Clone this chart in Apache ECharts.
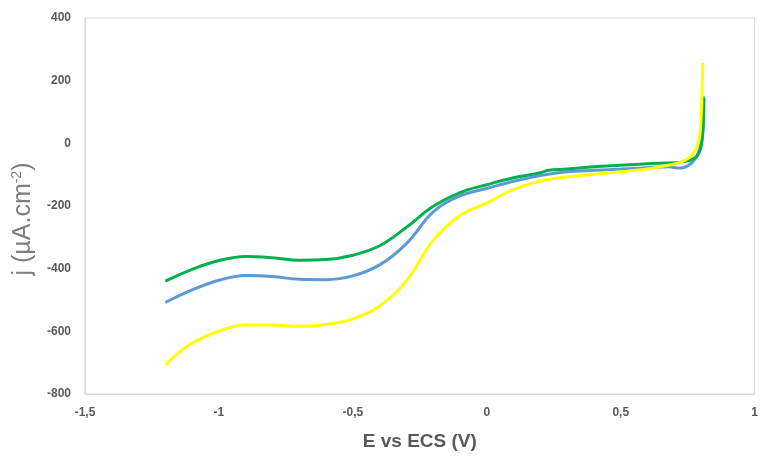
<!DOCTYPE html>
<html>
<head>
<meta charset="utf-8">
<script src="https://cdn.jsdelivr.net/npm/echarts@6/dist/echarts.min.js"></script>
<style>html,body{margin:0;padding:0;background:#fff}#c{width:761px;height:456px}</style>
</head>
<body>
<div id="c"></div>
<script>
// E vs ECS (V), j (µA.cm-2)
const blueData = [
  [-1.2,-508],[-1.1,-468],[-1.0,-437],[-0.9,-422],[-0.8,-425],
  [-0.7,-434],[-0.6,-435],[-0.5,-423],[-0.4,-388],
  [-0.3,-320],[-0.2,-219],[-0.1,-168],[0,-144],[0.1,-121],[0.2,-103],
  [0.3,-91],[0.4,-86],[0.5,-82],[0.6,-78],[0.68,-75],[0.72,-79],[0.76,-66],[0.79,-30],[0.805,30],[0.81,150]
];
const greenData = [
  [-1.2,-440],[-1.1,-402],[-1.0,-374],[-0.9,-361],[-0.8,-365],
  [-0.7,-373],[-0.6,-371],[-0.5,-357],[-0.4,-327],
  [-0.3,-268],[-0.2,-201],[-0.1,-157],[0,-132],[0.1,-110],[0.2,-94],
  [0.23,-86],[0.3,-82],[0.4,-75],[0.5,-70],[0.6,-65],[0.7,-62],[0.75,-56],[0.784,-41],[0.8,-10],[0.807,40],[0.81,145]
];
const yellowData = [
  [-1.2,-708],[-1.15,-668],[-1.1,-638],[-1.0,-599],[-0.9,-580],[-0.8,-580],
  [-0.7,-584],[-0.6,-578],[-0.5,-560],[-0.4,-519],
  [-0.3,-439],[-0.2,-309],[-0.1,-230],[0,-190],[0.1,-147],[0.2,-121],
  [0.3,-107],[0.4,-99],[0.5,-91],[0.6,-82],[0.65,-74],[0.7,-66],[0.73,-58],[0.766,-38],[0.79,2],[0.80,80],[0.806,257]
];
const xTicks = [-1.5, -1, -0.5, 0, 0.5, 1];
const yTicks = [-800, -600, -400, -200, 0, 200, 400];

const chart = echarts.init(document.getElementById('c'), null, {renderer: 'canvas'});
const labelStyle = {color: '#595959', fontSize: 12, fontWeight: 'bold', fontFamily: 'Liberation Sans'};
function mk(name, data, color) {
  return {name, type: 'line', data, showSymbol: false, smooth: 0.4,
    lineStyle: {color, width: 3}, itemStyle: {color}, z: 2};
}
chart.setOption({
  animation: false,
  backgroundColor: '#fff',
  grid: {left: 85, right: 0, top: 18, bottom: 58, show: true, borderColor: '#d9d9d9', borderWidth: 1},
  xAxis: {
    type: 'value', min: xTicks[0], max: xTicks[xTicks.length - 1], interval: 0.5,
    name: 'E vs ECS (V)', nameLocation: 'middle', nameGap: 38,
    nameTextStyle: {color: '#595959', fontSize: 19, fontWeight: 'bold', fontFamily: 'Liberation Sans'},
    axisLine: {show: true, onZero: false, lineStyle: {color: '#d9d9d9'}}, axisTick: {show: false}, splitLine: {show: false},
    axisLabel: Object.assign({margin: 13, formatter: v => String(v).replace('.', ',')}, labelStyle)
  },
  yAxis: {
    type: 'value', min: yTicks[0], max: yTicks[yTicks.length - 1], interval: 200,
    name: '{a|j (µA.cm}{s|-2}{a|)}', nameLocation: 'middle', nameGap: 47, nameRotate: 90,
    nameTextStyle: {padding: [0, 26, 0, 0], rich: {
      a: {color: '#7f7f7f', fontSize: 25, fontFamily: 'Liberation Sans'},
      s: {color: '#7f7f7f', fontSize: 14, fontFamily: 'Liberation Sans', padding: [0, 0, 13, 0]}
    }},
    axisLine: {show: true, onZero: false, lineStyle: {color: '#d9d9d9'}}, axisTick: {show: false}, splitLine: {show: false},
    axisLabel: Object.assign({margin: 14}, labelStyle)
  },
  series: [
    mk('blue', blueData, '#5b9bd5'),
    mk('green', greenData, '#00b050'),
    mk('yellow', yellowData, '#ffff00')
  ]
});
</script>
</body>
</html>
